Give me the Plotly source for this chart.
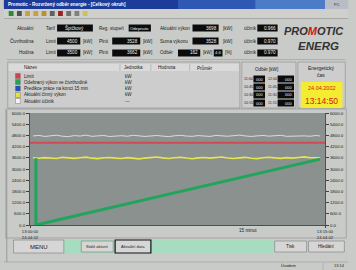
import plotly.graph_objects as go

# ---------------- data ----------------
yellow_min = [0.15, 0.45, 0.75, 1.05, 1.35, 1.65, 1.95, 2.25, 2.55, 2.85,
              3.15, 3.45, 3.75, 4.05, 4.35, 4.65, 4.95, 5.25, 5.55, 5.85,
              6.15, 6.45, 6.75, 7.05, 7.35, 7.65, 7.95, 8.25, 8.55, 8.85,
              9.15, 9.45, 9.75, 10.05, 10.35, 10.65, 10.95, 11.25, 11.55, 11.85,
              12.15, 12.45, 12.75, 13.05, 13.35, 13.65, 13.95, 14.25, 14.55, 14.75]
yellow_kw = [3600, 3575, 3610, 3590, 3560, 3625, 3595, 3570, 3605, 3635,
             3580, 3555, 3600, 3620, 3585, 3565, 3610, 3595, 3545, 3585,
             3615, 3645, 3595, 3565, 3600, 3630, 3585, 3550, 3595, 3615,
             3580, 3605, 3640, 3590, 3565, 3595, 3625, 3575, 3555, 3605,
             3630, 3595, 3570, 3610, 3585, 3615, 3650, 3600, 3620, 3600]
white_kw = [4770, 4800, 4745, 4775, 4810, 4755, 4735, 4790, 4765, 4815,
            4750, 4775, 4795, 4740, 4765, 4785, 4755, 4805, 4775, 4745,
            4770, 4795, 4760, 4735, 4780, 4805, 4765, 4750, 4790, 4775,
            4745, 4800, 4765, 4755, 4785, 4815, 4770, 4745, 4775, 4795,
            4760, 4780, 4805, 4750, 4765, 4790, 4775, 4755, 4795, 4770]
red_min = [0, 15]
red_kw = [4400, 4400]
green_min = [0.3, 0.3, 14.75]
green_kw = [3580, 0, 3530]

y_ticks = [0, 600, 1200, 1800, 2400, 3000, 3600, 4200, 4800, 5400, 6000]
x_ticks = [0, 15]
x_ticktext = ["13:00:00<br>24.04.02", "13:15:00<br>24.04.02"]

legend_names = ["Limit", "Odebraný výkon ve čtvrthodině", "Predikce práce na konci 15 min",
                "Aktuální činný výkon", "Aktuální účiník"]
legend_units = ["kW", "kW", "kW", "kW", "---"]
legend_colors = ["#d8404c", "#20a858", "#2050c0", "#e8e040", "#f4f4f4"]
odber_times1 = ["11:00", "10:45", "10:30", "10:15"]
odber_times2 = ["12:00", "11:45", "11:30", "11:15"]
odber_vals1 = ["000", "000", "000", "000"]
odber_vals2 = ["000", "000", "000", "000"]

# ---------------- geometry helpers ----------------
W, H = 356, 270
ML, MR, MT, MB = 27, 24, 113, 45
PW = W - ML - MR
PH = H - MT - MB
FONT = "Liberation Sans, Arial, sans-serif"


def px(x):
    return (x - ML) / PW


def py(y):
    return (H - MB - y) / PH


shapes = []
annotations = []


def rect(x0, y0, x1, y1, fill, line=None, lw=0):
    shapes.append(dict(type="rect", xref="paper", yref="paper",
                       x0=px(x0), x1=px(x1), y0=py(y1), y1=py(y0),
                       fillcolor=fill, line=dict(color=line or fill, width=lw),
                       layer="below"))


def hline(x0, x1, y, color, lw=1):
    shapes.append(dict(type="line", xref="paper", yref="paper",
                       x0=px(x0), x1=px(x1), y0=py(y), y1=py(y),
                       line=dict(color=color, width=lw), layer="below"))


def vline(x, y0, y1, color, lw=1):
    shapes.append(dict(type="line", xref="paper", yref="paper",
                       x0=px(x), x1=px(x), y0=py(y0), y1=py(y1),
                       line=dict(color=color, width=lw), layer="below"))


def text(x, y, s, size=4.6, color="#1a1a1a", anchor="left", bold=False, italic=False):
    if bold:
        s = "<b>" + s + "</b>"
    if italic:
        s = "<i>" + s + "</i>"
    annotations.append(dict(xref="paper", yref="paper", x=px(x), y=py(y), text=s,
                            showarrow=False, xanchor=anchor, yanchor="middle",
                            borderpad=0,
                            font=dict(size=size, color=color, family=FONT)))


def box(x0, x1, y, s, anchor="right", fill="#0c0c0c", color="#f0f0f0", size=4.6):
    rect(x0, y - 3.5, x1, y + 3.5, fill)
    if anchor == "right":
        text(x1 - 1, y, s, color=color, anchor="right", size=size)
    else:
        text((x0 + x1) / 2, y, s, color=color, anchor="center", size=size)


# ---------------- window chrome ----------------
rect(0, 0, 332, 9, "#1d3c9a")
rect(180, 0, 332, 9, "#2e58b4")
rect(260, 0, 332, 9, "#4c7cc8")
rect(332, 0, 356, 9, "#b8bcc4")
text(3, 4.5, "Promotic - Rozvržený odběr energie - [Celkový okruh]", size=4.6, color="#ffffff", bold=True)
text(344, 4.5, "PC", size=4, color="#303030", anchor="center")
rect(0, 9, 356, 18, "#cfcfcb")
for i, c in enumerate(["#2a8a3a", "#505050", "#c8a040", "#c8a040", "#b89030", "#606060", "#a02020", "#707070", "#808080", "#d0c060"]):
    rect(5 + i * 8.5, 11, 10 + i * 8.5, 16, c)
hline(0, 356, 18.5, "#909090", 0.6)

# ---------------- top status rows ----------------
r1, r2, r3 = 28, 41, 53
text(32, r1, "Aktuální", anchor="right")
text(32, r2, "Čtvrthodina", anchor="right")
text(32, r3, "Hodina", anchor="right")
text(43, r1, "Tarif")
box(55, 92, r1, "Špičkový", anchor="center")
text(43, r2, "Limit")
box(55, 79, r2, "4500")
text(81, r2, "[kW]")
text(43, r3, "Limit")
box(55, 79, r3, "3500")
text(81, r3, "[kW]")
text(97, r1, "Reg. stupeň")
box(129, 152, r1, "Odepnuto", anchor="center", size=4.2)
text(97, r2, "Plnit")
box(112, 141, r2, "3528")
text(143, r2, "[kW]")
text(97, r3, "Plnit")
box(112, 141, r3, "3662")
text(143, r3, "[kW]")
text(160, r1, "Aktuální výkon")
box(195, 222, r1, "3698")
text(225, r1, "[kW]")
text(160, r2, "Suma výkonu")
box(195, 222, r2, "3528")
text(225, r2, "[kW]")
text(160, r3, "Odběr")
box(180, 203, r3, "162")
text(205, r3, "[kW]")
box(217, 226, r3, "4.6", size=4.2)
text(227.5, r3, "[%]")
for r, v in [(r1, "0.966"), (r2, "0.970"), (r3, "0.970")]:
    text(247, r, "účiník")
    box(262, 283, r, v)

# logo
text(321, 31, "PRO<span style='color:#d01818'>M</span>OTIC", size=11, color="#333333",
     anchor="center", bold=True, italic=True)
text(325, 46, "ENERG", size=11.5, color="#333333", anchor="center", bold=True, italic=True)

hline(3, 353, 59.5, "#9a9a9a", 0.6)

# ---------------- legend table ----------------
rect(4, 62, 244, 108, "#cdcdcd", "#8c8c8c", 0.6)
rect(5, 64, 243, 71, "#dadada")
text(20, 67.5, "Název")
text(123, 67.5, "Jednotka")
text(158, 67.5, "Hodnota")
text(199, 67.5, "Průměr")
for x in [120, 152, 192]:
    vline(x, 64, 71, "#9a9a9a", 0.5)
rows_y = [76, 82, 88.5, 95, 101]
for yy, nm, un, col in zip(rows_y, legend_names, legend_units, legend_colors):
    rect(12, yy - 2.5, 17, yy + 2.5, col, "#606060", 0.4)
    text(20, yy, nm)
    text(124, yy, un)

# ---------------- Odber table ----------------
rect(246, 62, 302, 108, "#cdcdcd", "#8c8c8c", 0.6)
text(272, 69, "Odběr [kW]", anchor="center")
for yy, t1, t2, v1, v2 in zip([79, 87, 95, 103], odber_times1, odber_times2, odber_vals1, odber_vals2):
    text(247, yy, t1, size=3.6)
    box(258, 270, yy, v1, size=4)
    text(272, yy, t2, size=3.6)
    box(283, 300, yy, v2, size=4)

# ---------------- Energeticky cas ----------------
rect(304, 62, 353, 108, "#cdcdcd", "#8c8c8c", 0.6)
text(328, 68, "Energetický", size=5, anchor="center")
text(328, 75, "čas", size=5, anchor="center")
rect(307, 82, 350, 108, "#f4ec30")
text(328.5, 88, "24.04.2002", size=5.5, color="#d02010", anchor="center")
text(328.5, 101, "13:14:50", size=8.5, color="#d02010", anchor="center")

# ---------------- chart frame (outline only, plot bg must stay visible) ----------------
rect(2, 109, 354, 238, "rgba(0,0,0,0)", "#8c8c8c", 0.6)
text(252, 230, "15 minut", size=4.6, anchor="center")

# ---------------- bottom buttons ----------------
rect(62, 240, 279, 253, "#a8dcc0")
rect(10, 240, 62, 253, "#d6d6d6", "#7a7a7a", 0.6)
text(36, 246.5, "MENU", size=6, anchor="center")
rect(80, 241, 113, 252, "#d6d6d6", "#7a7a7a", 0.6)
text(96.5, 246.5, "Stálé aktivní", size=4, anchor="center")
rect(115, 240, 152, 253, "#d6d6d6", "#101010", 1.2)
text(133.5, 246.5, "Aktuální data", size=4, anchor="center")
rect(280, 241, 313, 252, "#d6d6d6", "#7a7a7a", 0.6)
text(296.5, 246.5, "Tisk", size=4.6, anchor="center")
rect(315, 241, 352, 252, "#d6d6d6", "#7a7a7a", 0.6)
text(333.5, 246.5, "Hledání", size=4.6, anchor="center")

# status bar
hline(0, 356, 262, "#9a9a9a", 0.6)
vline(3, 110, 262, "#8a8a8a", 0.8)
text(285, 265.8, "Úvodem", size=4)
text(340, 265.8, "13:14", size=4)
vline(330, 263, 270, "#9a9a9a", 0.5)

# ---------------- traces ----------------
fig = go.Figure()
fig.add_trace(go.Scatter(x=red_min, y=red_kw, mode="lines", yaxis="y2",
                         line=dict(color="#d24a56", width=2), hoverinfo="skip"))
fig.add_trace(go.Scatter(x=yellow_min, y=white_kw, mode="lines",
                         line=dict(color="rgba(228,234,228,0.85)", width=1), hoverinfo="skip"))
fig.add_trace(go.Scatter(x=yellow_min, y=yellow_kw, mode="lines",
                         line=dict(color="#e6e64a", width=1.6), hoverinfo="skip"))
fig.add_trace(go.Scatter(x=green_min, y=green_kw, mode="lines",
                         line=dict(color="#1fa65a", width=3), hoverinfo="skip"))

tick_text = [f"{v:.1f}" for v in y_ticks]
axis_common = dict(range=[0, 6000], tickvals=y_ticks, ticktext=tick_text,
                   showgrid=False, zeroline=False, ticks="outside", ticklen=3,
                   tickcolor="#404040", showline=True, linecolor="#505050", linewidth=1,
                   tickfont=dict(size=4.4, color="#1a1a1a", family=FONT), fixedrange=True)
fig.update_layout(
    width=W, height=H,
    margin=dict(l=ML, r=MR, t=MT, b=MB, pad=0),
    paper_bgcolor="#c9cbc9",
    plot_bgcolor="#8b918f",
    showlegend=False,
    xaxis=dict(range=[0, 15], tickvals=x_ticks, ticktext=x_ticktext, showgrid=False,
               zeroline=False, ticks="outside", ticklen=2, tickcolor="#404040",
               showline=True, linecolor="#505050", linewidth=1, fixedrange=True,
               tickfont=dict(size=4.2, color="#1a1a1a", family=FONT)),
    yaxis=dict(side="left", **axis_common),
    yaxis2=dict(side="right", overlaying="y", **axis_common),
    shapes=shapes,
    annotations=annotations,
)

fig.write_html("out.html", config={"displayModeBar": False},
               post_script="document.body.style.margin='0px';document.body.style.overflow='hidden';")
